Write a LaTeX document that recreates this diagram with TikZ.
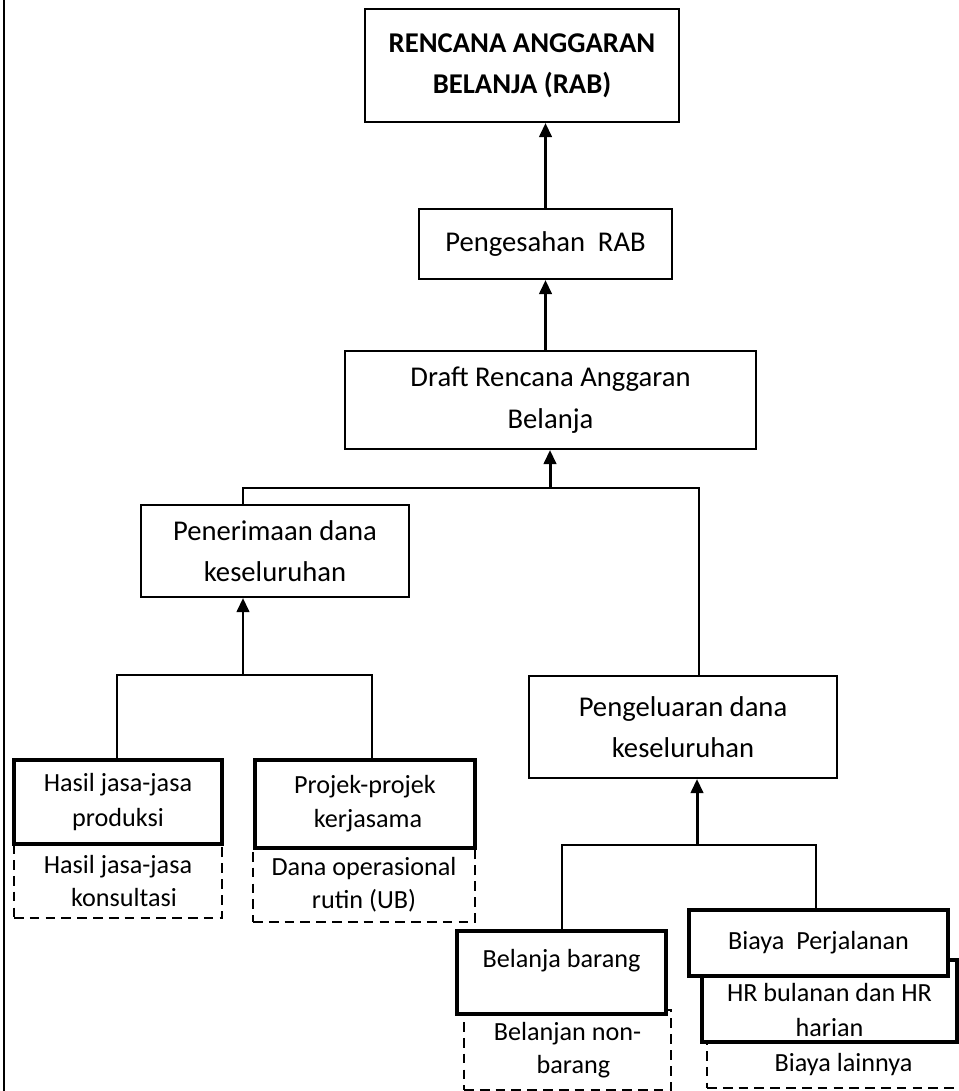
\documentclass[tikz,border=0pt]{standalone}
\usepackage{fontspec}
\setmainfont{Carlito}
\usetikzlibrary{positioning,arrows.meta}

\tikzset{
  box/.style={draw, line width=1.1pt, fill=white, inner sep=0pt, align=center,
    font=\fontsize{16.3}{23.5}\selectfont},
  titlebox/.style={box, font=\bfseries\fontsize{16.3}{23.2}\selectfont},
  thickbox/.style={box, line width=2.3pt, font=\fontsize{14.9}{19.5}\selectfont},
  dashbox/.style={box, dash pattern=on 5.5pt off 3.5pt, font=\fontsize{14.9}{19}\selectfont},
  link/.style={line width=1.1pt},
  uparrow/.style={line width=1.7pt, -{Triangle[length=8pt,width=7pt]}},
}

\begin{document}
\begin{tikzpicture}[x=0.02cm,y=-0.02cm]
  \useasboundingbox (0,0) rectangle (959,1091);
  \draw[line width=1.7pt] (4,0) -- (4,1091);

  % upper chain
  \node[titlebox, minimum width=6.28cm, minimum height=2.26cm] (rab) at (522,65.5) {RENCANA ANGGARAN\\BELANJA (RAB)};
  \node[box, minimum width=5.06cm, minimum height=1.4cm] (sah) at (545.5,244) {Pengesahan\ \ RAB};
  \node[box, minimum width=8.22cm, minimum height=1.96cm] (draft) at (550.5,400) {Draft Rencana Anggaran\\Belanja};
  \node[box, minimum width=5.36cm, minimum height=1.84cm] (terima) at (275,551) {Penerimaan dana\\keseluruhan};
  \node[box, minimum width=6.16cm, minimum height=2.04cm] (keluar) at (683,727) {Pengeluaran dana\\keseluruhan};

  % sources of funds
  \node[dashbox, minimum width=4.16cm, minimum height=1.48cm] (konsul) at (118,881) {Hasil jasa-jasa\\\ \ konsultasi};
  \node[thickbox, minimum width=4.16cm, minimum height=1.68cm] (produksi) at (118,802) {Hasil jasa-jasa\\produksi};
  \node[dashbox, minimum width=4.44cm, minimum height=1.48cm] (ops) at (364,885) {Dana operasional\\rutin (UB)};
  \node[thickbox, minimum width=4.4cm, minimum height=1.76cm] (projek) at (365,804) {Projek-projek\\\ kerjasama};

  % spending
  \node[dashbox, minimum width=4.14cm, minimum height=1.6cm] (nonbarang) at (567.5,1050) {Belanjan non-\\\ \ barang};
  \node[thickbox, minimum width=4.18cm, minimum height=1.66cm, text depth=0.55cm] (barang) at (561.5,972.5) {Belanja barang};
  \node[dashbox, minimum width=5.46cm, minimum height=0.92cm] (lain) at (843.5,1065) {Biaya lainnya};
  \node[thickbox, minimum width=5.1cm, minimum height=1.64cm] (hr) at (829.5,1001) {\rule{0pt}{0.72cm}HR bulanan dan HR\\harian};
  \node[thickbox, minimum width=5.18cm, minimum height=1.32cm] (jalan) at (818.5,943) {Biaya\ \ Perjalanan};

  % connectors
  \draw[uparrow] (sah.north) -- (sah.north |- rab.south);
  \draw[uparrow] (sah.south |- draft.north) -- (sah.south);

  \coordinate (j1) at (550,488);
  \coordinate (j1w) at (243,488);
  \coordinate (j1e) at (699,488);
  \draw[link] (j1w |- terima.north) -- (j1w) -- (j1e) -- (j1e |- keluar.north);
  \draw[uparrow] (j1) -- (j1 |- draft.south);

  \coordinate (j2) at (243,675);
  \coordinate (j2w) at (117,675);
  \coordinate (j2e) at (372,675);
  \draw[link] (j2w |- produksi.north) -- (j2w) -- (j2e) -- (j2e |- projek.north);
  \draw[uparrow] (j2) -- (j2 |- terima.south);

  \coordinate (j3) at (697,845);
  \coordinate (j3w) at (562,845);
  \coordinate (j3e) at (816,845);
  \draw[link] (j3w |- barang.north) -- (j3w) -- (j3e) -- (j3e |- jalan.north);
  \draw[uparrow] (j3) -- (j3 |- keluar.south);
\end{tikzpicture}
\end{document}
